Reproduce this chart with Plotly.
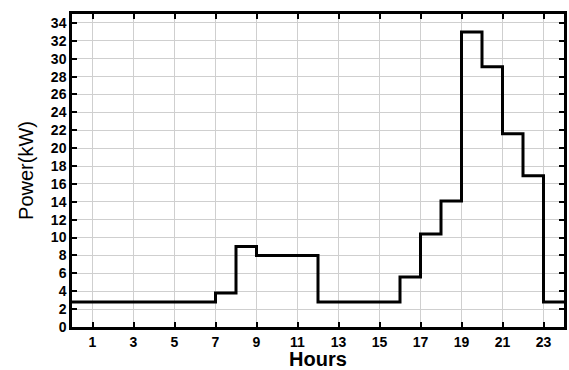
import plotly.graph_objects as go

hours = list(range(0, 25))
power = [2.8, 2.8, 2.8, 2.8, 2.8, 2.8, 2.8, 3.8, 9.0, 8.0, 8.0, 8.0,
         2.8, 2.8, 2.8, 2.8, 5.6, 10.4, 14.1, 33.0, 29.1, 21.6, 16.9, 2.8, 2.8]
x_ticks = [1, 3, 5, 7, 9, 11, 13, 15, 17, 19, 21, 23]
y_ticks = list(range(0, 35, 2))

fig = go.Figure()
fig.add_trace(go.Scatter(x=hours, y=power, mode="lines", line_shape="hv",
                         line=dict(color="black", width=3), showlegend=False))

fig.update_layout(
    width=569, height=370,
    margin=dict(l=72, r=2, t=14, b=41),
    plot_bgcolor="white", paper_bgcolor="white",
    font=dict(family="Liberation Sans, Arial, sans-serif", color="black"),
)
fig.update_xaxes(
    range=[0, 24], tickvals=x_ticks, ticktext=[str(v) for v in x_ticks],
    tickfont=dict(size=14, family="Liberation Sans, Arial", weight="bold"),
    showgrid=True, gridcolor="#cfcfcf", gridwidth=1,
    showline=True, linecolor="black", linewidth=2.5, mirror="allticks",
    ticks="inside", ticklen=5, tickwidth=2, tickcolor="black",
    title=dict(text="<b>Hours</b>", font=dict(size=20), standoff=4),
    zeroline=False,
)
fig.update_yaxes(
    range=[0, 35], tickvals=y_ticks, ticktext=[str(v) for v in y_ticks],
    tickfont=dict(size=14, family="Liberation Sans, Arial", weight="bold"),
    showgrid=True, gridcolor="#cfcfcf", gridwidth=1,
    showline=True, linecolor="black", linewidth=2.5, mirror="allticks",
    ticks="inside", ticklen=5, tickwidth=2, tickcolor="black",
    title=dict(text="Power(kW)", font=dict(size=20), standoff=12),
    zeroline=False,
)

fig.write_html("out.html", config={"displayModeBar": False},
               post_script="document.body.style.margin='0';document.body.style.overflow='hidden';")
